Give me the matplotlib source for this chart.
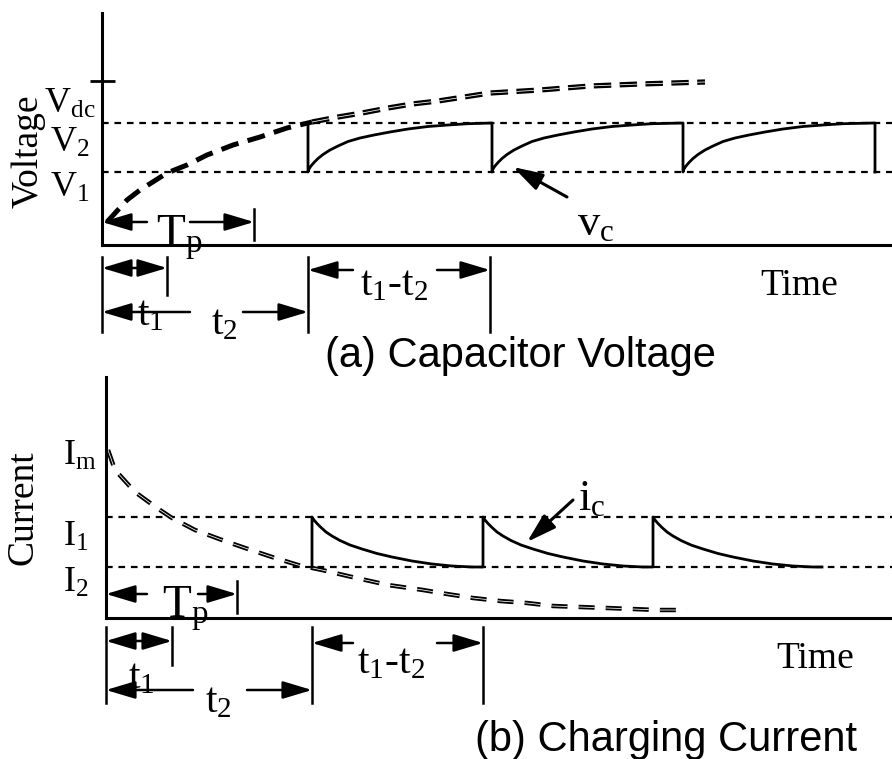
import matplotlib
matplotlib.use("Agg")
import matplotlib.pyplot as plt
import matplotlib.transforms as mtransforms

plt.rcParams['font.family'] = ['Liberation Serif', 'DejaVu Serif']
plt.rcParams['mathtext.fontset'] = 'custom'
plt.rcParams['mathtext.rm'] = 'Liberation Serif'
plt.rcParams['mathtext.it'] = 'Liberation Serif:italic'
plt.rcParams['mathtext.bf'] = 'Liberation Serif:bold'

# ---------------- data (arbitrary units) ----------------
# (a) capacitor voltage
V_DC, V_2, V_1 = 164, 122, 73
v_dash_t = [5, 25, 38, 65, 85, 105, 131, 158, 185, 210, 236, 260, 286, 310, 336, 388, 438, 488, 538, 603]
v_dash_v = [23, 45, 55, 72, 80, 90, 100, 108, 117, 123, 128, 132, 137, 141, 144, 152, 155, 159, 161, 163]
v_edges = [206, 390, 581, 773]                 # switching instants of v_c
v_seg_dt = [0, 1, 3, 6, 10, 15, 22, 30, 40, 52, 66, 82, 100, 120, 140, 160]
v_seg_rise = [0, 3, 6, 9.5, 13.5, 17.5, 22, 26, 30.5, 34, 37, 40, 43, 45.5, 47, 48.3]
v_t1, v_tp = 65, 152

# (b) charging current
I_M, I_1, I_2 = 166, 101, 51
i_dash_t = [2, 9, 29, 51, 66, 89, 116, 139, 166, 192, 216, 246, 282, 317, 341, 367, 394, 421, 447, 474, 501, 527, 551, 581]
i_dash_i = [168, 148, 126, 110, 100, 88, 78, 70, 61, 53, 48, 41, 33, 28, 24, 20, 17, 15, 12, 11, 10, 9, 8, 8]
i_edges = [206, 377, 547, 716]
i_seg_dt = [0, 2, 5, 9, 14, 20, 28, 38, 50, 65, 80, 100, 120, 140, 160]
i_seg_drop = [0, 3, 6.5, 10.5, 15, 19, 23.5, 28, 32, 36.5, 40, 44, 47, 49, 50]
i_t1, i_tp = 66, 131

# ---------------- figure ----------------
W, H = 892, 759
fig = plt.figure(figsize=(W / 100, H / 100), dpi=100)
px = mtransforms.Affine2D().scale(1, -1).translate(0, H)   # pixel coords, origin top-left


def panel(x0, y_top, y_bot, ticks):
    ax = fig.add_axes([x0 / W, (H - y_bot) / H, (W - x0) / W, (y_bot - y_top) / H])
    ax.set_xlim(0, W - x0)
    ax.set_ylim(0, y_bot - y_top)
    ax.patch.set_visible(False)
    for s in ['top', 'right']:
        ax.spines[s].set_visible(False)
    for s in ['left', 'bottom']:
        ax.spines[s].set_linewidth(2.2)
    ax.set_xticks([])
    ax.set_yticks(ticks)
    ax.tick_params(axis='y', direction='inout', length=18, width=2, labelleft=False)
    return ax


axV = panel(102, 13, 245, [V_DC])
axI = panel(106, 377, 618, [])

dot = dict(color='k', lw=1.6, ls=(0, (3, 2.6)))


def double_dash(ax, t, y, lw, core, on, off):
    ax.plot(t, y, color='k', lw=lw, ls=(0, (on, off)), dash_capstyle='butt')
    ax.plot(t, y, color='white', lw=core,
            ls=(0, (on * lw / core, off * lw / core)), dash_capstyle='butt')


# ---- (a) voltage ----
axV.axhline(V_2, **dot)
axV.axhline(V_1, **dot)
axV.plot(v_dash_t[:10], v_dash_v[:10], color='k', lw=3.6, ls=(0, (3.6, 1.9)), dash_capstyle='butt')
double_dash(axV, v_dash_t[9:], v_dash_v[9:], 3.8, 0.55, 3.3, 1.6)

st, sv = [v_edges[0]], [V_2]
for a, b in zip(v_edges[:-1], v_edges[1:]):
    st += [a] + [a + d for d in v_seg_dt] + [b]
    sv += [V_1] + [V_1 + r for r in v_seg_rise] + [V_2]
st.append(v_edges[-1]); sv.append(V_1)
axV.plot(st, sv, color='k', lw=2.0, solid_joinstyle='round')

# ---- (b) current ----
axI.axhline(I_1, **dot)
axI.axhline(I_2, **dot)
double_dash(axI, i_dash_t, i_dash_i, 3.2, 0.55, 3.6, 2.5)

ct, ci = [], []
for a, b in zip(i_edges[:-1], i_edges[1:]):
    ct += [a] + [a + d for d in i_seg_dt] + [b]
    ci += [I_2] + [I_1 - d for d in i_seg_drop] + [I_2]
axI.plot(ct, ci, color='k', lw=2.0, solid_joinstyle='round')

# ---------------- annotations ----------------
AP = dict(arrowstyle='-|>,head_length=0.9,head_width=0.27', mutation_scale=20,
          lw=1.8, color='k', shrinkA=0, shrinkB=0)
AP2 = dict(AP, arrowstyle='<|-|>,head_length=0.9,head_width=0.27')


def arrow(ax, tr, tail, head, y, props=AP):
    ax.annotate('', xy=(head, y), xytext=(tail, y), xycoords=tr, textcoords=tr,
                arrowprops=props, annotation_clip=False)


def vline(ax, tr, x, y0, y1):
    ax.plot([x, x], [y0, y1], transform=tr, color='k', lw=1.8, clip_on=False)


def txt(x, y, s, size, **kw):
    kw.setdefault('ha', 'left')
    kw.setdefault('va', 'baseline')
    fig.text(x, y, s, transform=px, fontsize=size, **kw)


def dims(ax, t1, tp, e0, e1, y_tp, y_t1, y_t2, top, bot, tp_gap, t2_gap, tt_gap, tp_tick, t1_tick):
    tr = mtransforms.blended_transform_factory(ax.transData, px)
    # Tp
    arrow(ax, tr, tp_gap[0], 0, y_tp)
    arrow(ax, tr, tp_gap[1], tp, y_tp)
    vline(ax, tr, tp, *tp_tick)
    # t1
    arrow(ax, tr, 0, t1, y_t1, AP2)
    vline(ax, tr, t1, *t1_tick)
    vline(ax, tr, 0, top, bot)
    # t2
    arrow(ax, tr, t2_gap[0], 0, y_t2)
    arrow(ax, tr, t2_gap[1], e0, y_t2)
    # t1-t2
    vline(ax, tr, e0, top, bot)
    vline(ax, tr, e1, top, bot)
    arrow(ax, tr, tt_gap[0], e0, y_t1 + 2)
    arrow(ax, tr, tt_gap[1], e1, y_t1 + 2)


dims(axV, v_t1, v_tp, v_edges[0], v_edges[1] - 2, 222, 268, 312, 257, 332,
     (45, 88), (88, 141), (251, 335), (209, 240), (257, 295))
dims(axI, i_t1, i_tp, i_edges[0], i_edges[1], 594, 641, 690, 627, 703,
     (41, 92), (87, 141), (247, 331), (581, 613), (627, 665))

# labels panel (a)
txt(28, 151, 'Voltage', 27, rotation=90, ha='center', va='center')
txt(44, 113, r'$\mathrm{V}_{\mathrm{dc}}$', 26)
txt(50, 152, r'$\mathrm{V}_{2}$', 26)
txt(50, 197, r'$\mathrm{V}_{1}$', 26)
txt(156, 247, r'$\mathrm{T}_{\mathrm{p}}$', 34)
txt(137, 325, r'$\mathrm{t}_{1}$', 30)
txt(211, 334, r'$\mathrm{t}_{2}$', 30)
txt(360, 295, r'$\mathrm{t}_{1}$-$\mathrm{t}_{2}$', 30)
txt(760, 295, 'Time', 27)
txt(577, 235, r'$\mathrm{v}_{\mathrm{c}}$', 32)
axV.annotate('', xy=(513, 167), xytext=(567, 197), xycoords=px, textcoords=px,
             arrowprops=dict(AP, lw=2.2), annotation_clip=False)
txt(520, 367, '(a) Capacitor Voltage', 30, ha='center', family='Liberation Sans')

# labels panel (b)
txt(23, 508, 'Current', 27, rotation=90, ha='center', va='center')
txt(63, 465, r'$\mathrm{I}_{\mathrm{m}}$', 26)
txt(63, 546, r'$\mathrm{I}_{1}$', 26)
txt(63, 592, r'$\mathrm{I}_{2}$', 26)
txt(162, 618, r'$\mathrm{T}_{\mathrm{p}}$', 34)
txt(128, 688, r'$\mathrm{t}_{1}$', 30)
txt(205, 712, r'$\mathrm{t}_{2}$', 30)
txt(357, 673, r'$\mathrm{t}_{1}$-$\mathrm{t}_{2}$', 30)
txt(776, 668, 'Time', 27)
txt(578, 510, r'$\mathrm{i}_{\mathrm{c}}$', 32)
axI.annotate('', xy=(527, 542), xytext=(573, 500), xycoords=px, textcoords=px,
             arrowprops=dict(AP, lw=2.2), annotation_clip=False)
txt(666, 751, '(b) Charging Current', 30, ha='center', family='Liberation Sans')

fig.savefig('out.png', dpi=100)
